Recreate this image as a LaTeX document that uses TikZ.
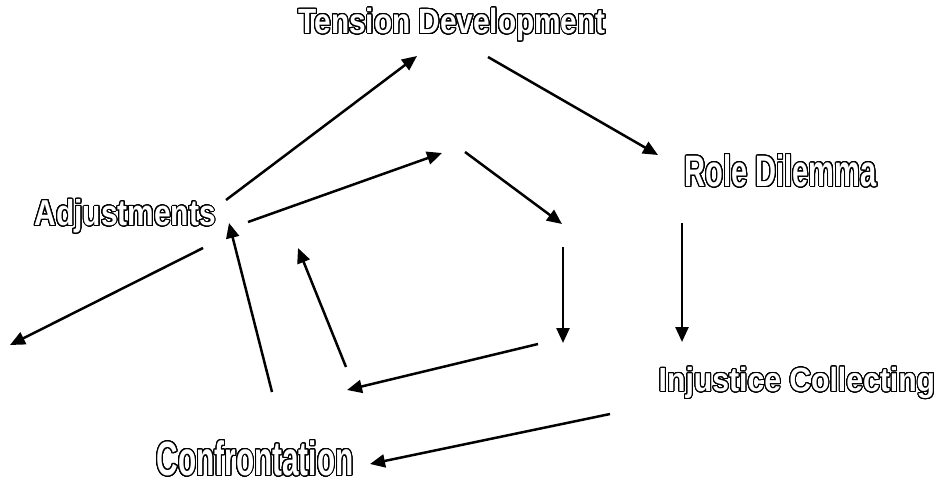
\documentclass[tikz,border=0pt]{standalone}
\usepackage{fontspec}
\usepackage{contour}
\usetikzlibrary{arrows.meta}
\newfontfamily\outlinefont{Liberation Sans}
\contourlength{1pt}
\contournumber{32}
% outlined label text: size, stretch, text
\newcommand{\olbl}[3]{{\outlinefont\bfseries\addfontfeatures{FakeStretch=#2}\fontsize{#1}{#1}\selectfont\contour{black}{#3}}}
\tikzset{
  outl/.style={inner sep=0pt, anchor=base west, text=white},
  arr/.style={line width=2.5pt, -{Triangle[length=15pt,width=13pt]}},
}
\begin{document}
\begin{tikzpicture}[x=1pt,y=-1pt]
\useasboundingbox (0,0) rectangle (941,479);
% labels
\node[outl] (tension) at (298.5,33.5) {\olbl{35}{0.85}{Tension Development}};
\node[outl] (role) at (684.5,186.5) {\olbl{44}{0.66}{Role Dilemma}};
\node[outl] (adjust) at (34.5,225.5) {\olbl{36}{0.83}{Adjustments}};
\node[outl] (injust) at (658.5,391.5) {\olbl{33.5}{0.9}{Injustice Collecting}};
\node[outl] (confront) at (156.5,475.5) {\olbl{48}{0.62}{Confrontation}};
% outer cycle
\coordinate (adj-ten) at (226,200);
\coordinate (ten-in) at (417,56);
\coordinate (ten-out) at (488,57);
\coordinate (role-in) at (658,155);
\coordinate (role-out) at (682,223);
\coordinate (inj-in) at (682,342);
\coordinate (inj-out) at (610,414);
\coordinate (conf-in) at (370,464);
\coordinate (conf-out) at (272,392);
\coordinate (adj-in) at (229,223);
\coordinate (adj-out) at (203,248);
\coordinate (away) at (10,345);
\draw[arr] (adj-ten) -- (ten-in);
\draw[arr] (ten-out) -- (role-in);
\draw[arr] (role-out) -- (inj-in);
\draw[arr] (inj-out) -- (conf-in);
\draw[arr] (conf-out) -- (adj-in);
\draw[arr] (adj-out) -- (away);
% inner cycle
\coordinate (i0) at (248,222);
\coordinate (i1) at (442,153);
\coordinate (i2) at (465,152);
\coordinate (i3) at (562,224);
\coordinate (i4) at (563,247);
\coordinate (i5) at (563,343);
\coordinate (i6) at (538,344);
\coordinate (i7) at (347,390);
\coordinate (i8) at (346,367);
\coordinate (i9) at (298,248);
\draw[arr] (i0) -- (i1);
\draw[arr] (i2) -- (i3);
\draw[arr] (i4) -- (i5);
\draw[arr] (i6) -- (i7);
\draw[arr] (i8) -- (i9);
\end{tikzpicture}
\end{document}
